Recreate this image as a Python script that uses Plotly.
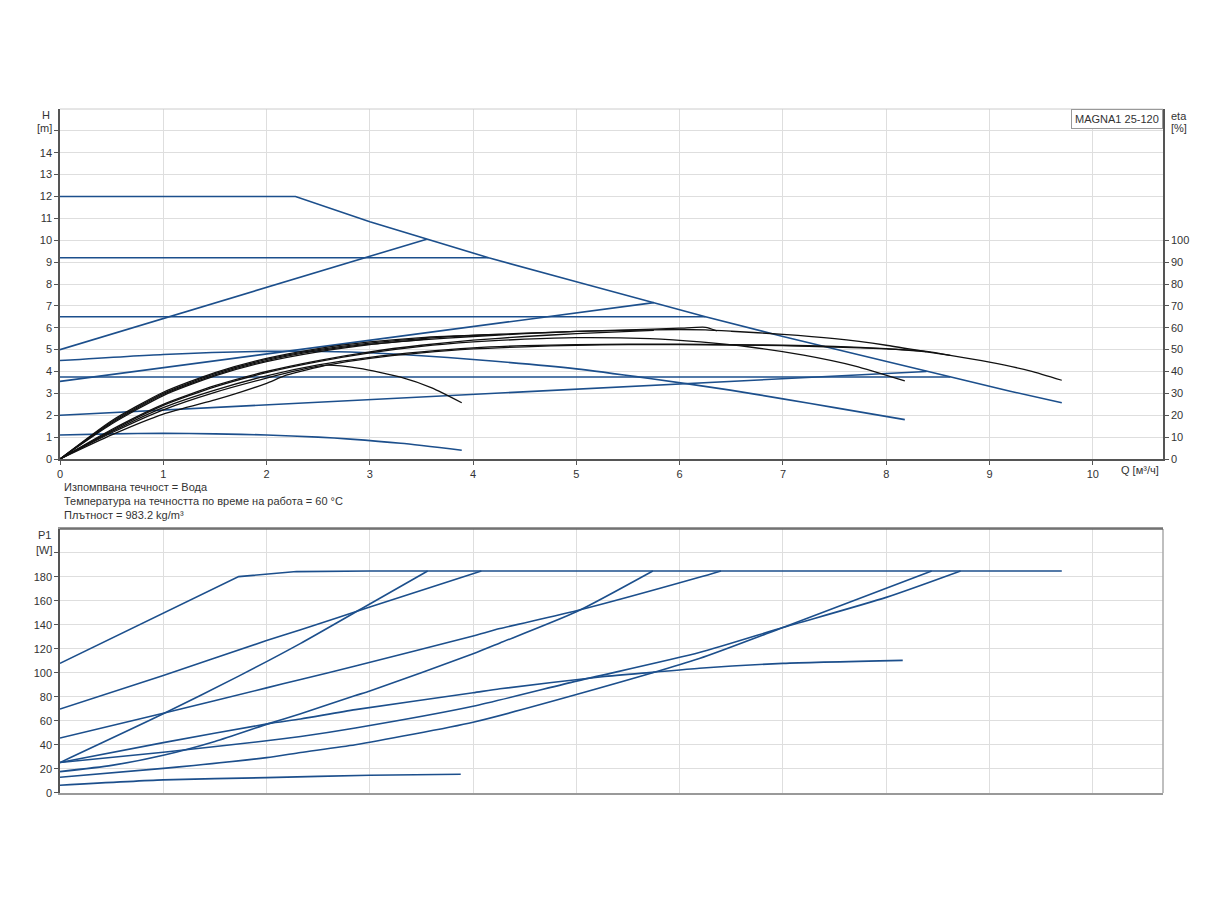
import plotly.graph_objects as go

# ---- Q-H curves (Q in m3/h, H in m) ----
q_max = [0, 2.28, 3.0, 3.55, 4.15, 5.0, 5.75, 6.25, 7.0, 8.0, 8.39, 8.62, 9.2, 9.7]
h_max = [12, 12, 10.85, 10.05, 9.2, 8.1, 7.15, 6.5, 5.6, 4.45, 4.0, 3.74, 3.1, 2.57]

q_cp3, h_cp3 = [0, 4.15], [9.2, 9.2]
q_cp2, h_cp2 = [0, 6.25], [6.5, 6.5]
q_cp1, h_cp1 = [0, 8.62], [3.75, 3.75]
q_pp3, h_pp3 = [0, 3.55], [5.0, 10.05]
q_pp2, h_pp2 = [0, 5.75], [3.55, 7.15]
q_pp1, h_pp1 = [0, 8.39], [2.0, 4.0]

q_sp2 = [0, 1, 2, 2.81, 3.5, 4, 5, 5.71, 6.49, 7, 7.5, 8.18]
h_sp2 = [4.5, 4.78, 4.92, 4.89, 4.72, 4.55, 4.12, 3.68, 3.15, 2.75, 2.35, 1.8]
q_sp1 = [0, 0.5, 1, 1.5, 2, 2.5, 2.81, 3.3, 3.89]
h_sp1 = [1.1, 1.15, 1.17, 1.15, 1.1, 1.0, 0.91, 0.72, 0.4]

# ---- efficiency curves (eta in %) ----
q_eta_max = [0, 0.5, 1, 1.5, 2, 2.5, 3, 3.5, 4, 4.5, 5, 5.5, 6, 6.25, 6.5, 7, 7.5, 8, 8.39, 8.62, 9, 9.4, 9.7]
eta_max = [0, 17, 30, 39, 45.5, 50, 53, 55, 56.5, 57.5, 58.3, 58.8, 59.2, 59, 58.4, 57, 55, 52, 49, 47.4, 44.3, 40.2, 36]

q_eta_cp3 = [0, 0.5, 1, 1.5, 2, 2.5, 3, 3.5, 4.15]
eta_cp3 = [0, 17.5, 30.5, 39.5, 46, 50.5, 53.5, 55.5, 56.8]
q_eta_cp2 = [0, 0.5, 1, 1.5, 2, 2.5, 3, 3.5, 4, 4.5, 5, 5.5, 6, 6.25, 6.36]
eta_cp2 = [0, 16.5, 29.5, 38.5, 45, 49.5, 52.5, 54.5, 56, 57.3, 58.3, 59, 59.8, 60.2, 58.6]
q_eta_pp3 = [0, 0.5, 1, 1.5, 2, 2.5, 3, 3.55]
eta_pp3 = [0, 16, 29, 38, 44.5, 49, 52.3, 54.8]
q_eta_pp2 = [0, 0.5, 1, 1.5, 2, 2.5, 3, 3.5, 4, 4.5, 5, 5.75]
eta_pp2 = [0, 13.5, 25, 33.5, 40, 45, 49, 52, 54.3, 56, 57.3, 58.8]
q_eta_sp2 = [0, 0.5, 1, 1.5, 2, 2.5, 3, 3.5, 4, 4.5, 5, 5.71, 6.2, 6.68, 7.2, 7.7, 8.18]
eta_sp2 = [0, 13, 24.5, 33, 39.5, 44.5, 48.5, 51.5, 53.5, 54.8, 55.5, 55, 53.5, 51.2, 47.5, 42.5, 35.7]
q_eta_cp1 = [0, 0.5, 1, 1.5, 2, 2.5, 3, 3.5, 4, 4.5, 5, 5.5, 6, 6.5, 7, 7.5, 8, 8.39, 8.62]
eta_cp1 = [0, 12.5, 23.5, 31.5, 38, 43, 46.5, 49, 50.8, 51.8, 52.3, 52.5, 52.5, 52.3, 52, 51.5, 50.5, 49.2, 47.4]
q_eta_pp1 = [0, 0.5, 1, 1.5, 1.71, 2, 2.19, 2.6, 3, 3.5, 4, 4.5, 5, 5.5, 6, 6.5, 7, 7.5, 8, 8.39]
eta_pp1 = [0, 11, 20.5, 27, 30, 34.6, 38.3, 43, 46, 48.5, 50.3, 51.3, 52, 52.3, 52.3, 52.1, 51.8, 51.2, 50.3, 49]
q_eta_sp1 = [0, 0.5, 1, 1.5, 2, 2.3, 2.58, 2.9, 3.29, 3.6, 3.89]
eta_sp1 = [0, 12, 22.5, 30.5, 37, 40.5, 42.9, 41.4, 37.5, 32.5, 25.7]

# ---- power curves (P1 in W) ----
q_p_max, p_max = [0, 1.73, 2.29, 3.0, 9.7], [108, 180.3, 184.5, 185, 185]
q_p_cp3, p_cp3 = [0, 1, 2, 2.33, 3, 4.08], [70, 98, 127, 136, 155, 185]
q_p_pp3, p_pp3 = [0, 1, 1.73, 2.33, 2.94, 3.56], [25.4, 66, 97.4, 124.7, 154.6, 185]
q_p_cp2 = [0, 1, 2, 2.33, 2.86, 4, 4.26, 5, 6.19, 6.4]
p_cp2 = [45.8, 66.5, 87.6, 94.6, 105.8, 130.9, 137, 151.8, 179.7, 185]
q_p_pp2 = [0, 0.5, 1, 1.5, 2.02, 2.33, 2.86, 3, 4, 4.26, 5, 5.74]
p_pp2 = [17.8, 23, 31.5, 43, 57.8, 66.1, 81.2, 85, 116, 125, 151, 185]
q_p_sp2 = [0, 1, 2.02, 2.33, 2.86, 4, 4.26, 5.25, 5.75, 6.19, 7, 8.16]
p_sp2 = [25.4, 42, 57.8, 61.7, 69.5, 83.5, 86.8, 96.9, 100.7, 104, 108, 110.5]
q_p_cp1 = [0, 1, 2, 2.33, 2.86, 4, 5, 6.19, 7, 8, 8.72]
p_cp1 = [25.4, 34, 43.5, 47.1, 54.2, 72.3, 93.2, 117, 137.9, 163, 185]
q_p_pp1 = [0, 1, 2, 2.33, 2.86, 4, 5, 6.19, 7, 8.44]
p_pp1 = [13.1, 20.5, 29.5, 33.8, 40.2, 59, 82, 112, 137.9, 185]
q_p_sp1, p_sp1 = [0, 1, 2, 3, 3.88], [6.5, 10.9, 12.8, 14.8, 15.6]

q_ticks = list(range(0, 11))
h_ticks = list(range(0, 16))
eta_ticks = list(range(0, 101, 10))
p_ticks = list(range(0, 201, 20))

BLUE = "#1c4f8c"
BLACK = "#111111"
GRID = "#dedede"
AXIS = "#555555"
FONT = "Liberation Sans, Arial, sans-serif"

fig = go.Figure()

def curve(q, v, color, width, xa, ya, smooth=True):
    shape = dict(shape="spline", smoothing=0.6) if smooth else dict(shape="linear")
    fig.add_scatter(x=q, y=v, mode="lines", line=dict(color=color, width=width, **shape),
                    xaxis=xa, yaxis=ya, hoverinfo="skip")

h_curves = [(q_max, h_max), (q_cp3, h_cp3), (q_cp2, h_cp2), (q_cp1, h_cp1),
            (q_pp3, h_pp3), (q_pp2, h_pp2), (q_pp1, h_pp1), (q_sp2, h_sp2), (q_sp1, h_sp1)]
for i, (q, h) in enumerate(h_curves):
    curve(q, h, BLUE, 1.6, "x", "y", smooth=(i >= 7))

eta_curves = [(q_eta_max, eta_max), (q_eta_cp3, eta_cp3), (q_eta_cp2, eta_cp2),
              (q_eta_pp3, eta_pp3), (q_eta_pp2, eta_pp2), (q_eta_sp2, eta_sp2),
              (q_eta_cp1, eta_cp1), (q_eta_pp1, eta_pp1), (q_eta_sp1, eta_sp1)]
for q, e in eta_curves:
    curve(q, e, BLACK, 1.3, "x", "y3")

p_curves = [(q_p_max, p_max), (q_p_cp3, p_cp3), (q_p_pp3, p_pp3), (q_p_cp2, p_cp2),
            (q_p_pp2, p_pp2), (q_p_sp2, p_sp2), (q_p_cp1, p_cp1), (q_p_pp1, p_pp1),
            (q_p_sp1, p_sp1)]
for i, (q, p) in enumerate(p_curves):
    curve(q, p, BLUE, 1.6, "x2", "y2", smooth=(i > 0))

tickfont = dict(family=FONT, size=11, color="#333")
xr = [0, 10.68]

# the page body adds 8px around the figure, so margins are shifted by that
fig.update_layout(
    width=1224, height=900,
    margin=dict(l=52, r=69, t=101, b=115),
    paper_bgcolor="white", plot_bgcolor="white",
    showlegend=False,
    font=dict(family=FONT, size=11, color="#333"),
    xaxis=dict(domain=[0, 1], anchor="y", range=xr, tickvals=q_ticks, automargin=False,
               showgrid=True, gridcolor=GRID, zeroline=False,
               showline=True, linecolor=AXIS, linewidth=1.5,
               ticks="outside", ticklen=4, tickcolor=AXIS, tickfont=tickfont),
    yaxis=dict(domain=[0.4883, 1], anchor="x", range=[0, 16], tickvals=h_ticks, automargin=False,
               ticktext=[str(v) if v <= 14 else "" for v in h_ticks],
               showgrid=True, gridcolor=GRID, zeroline=False,
               showline=True, linecolor=AXIS, linewidth=1.5,
               ticks="outside", ticklen=4, tickcolor=AXIS, tickfont=tickfont),
    yaxis3=dict(overlaying="y", side="right", anchor="x", range=[0, 160], automargin=False,
                tickvals=eta_ticks, showgrid=False, zeroline=False,
                showline=True, linecolor=AXIS, linewidth=1.5,
                ticks="outside", ticklen=4, tickcolor=AXIS, tickfont=tickfont),
    xaxis2=dict(domain=[0, 1], anchor="y2", range=xr, tickvals=q_ticks, automargin=False,
                showticklabels=False, showgrid=True, gridcolor=GRID, zeroline=False,
                showline=True, linecolor="#999", linewidth=1.5, mirror=True,
                ticks=""),
    yaxis2=dict(domain=[0, 0.386], anchor="x2", range=[0, 220], tickvals=p_ticks, automargin=False,
                ticktext=[str(v) if v <= 180 else "" for v in p_ticks],
                showgrid=True, gridcolor=GRID, zeroline=False,
                showline=True, linecolor=AXIS, linewidth=1.5,
                ticks="outside", ticklen=4, tickcolor=AXIS, tickfont=tickfont),
    shapes=[
        dict(type="line", xref="paper", yref="paper", x0=0, x1=1, y0=1, y1=1,
             line=dict(color="#cccccc", width=1)),
        dict(type="line", xref="paper", yref="paper", x0=1, x1=1, y0=0, y1=0.386,
             line=dict(color="#aaaaaa", width=1.5)),
        dict(type="line", xref="paper", yref="paper", x0=0, x1=1, y0=0.386, y1=0.386,
             line=dict(color="#666666", width=1.5)),
    ],
)

def label(text, x, y, xanchor="center", **kw):
    fig.add_annotation(text=text, xref="paper", yref="paper", x=x, y=y,
                       xanchor=xanchor, yanchor="middle", showarrow=False,
                       font=dict(family=FONT, size=11, color="#333"), **kw)

label("H", -0.0127, 0.9912)
label("[m]", -0.0136, 0.9722)
label("eta", 1.0145, 0.9898)
label("[%]", 1.0145, 0.9722)
label("P1", -0.0136, 0.3772)
label("[W]", -0.0136, 0.3553)
label("Q [м³/ч]", 0.979, 0.4722)
label("Изпомпвана течност = Вода", 0.0018, 0.4474, xanchor="left")
label("Температура на течността по време на работа = 60 °C", 0.0018, 0.4269, xanchor="left")
label("Плътност = 983.2 kg/m³", 0.0018, 0.4064, xanchor="left")
fig.add_annotation(text="MAGNA1 25-120", xref="paper", yref="paper", x=1, y=1,
                   xanchor="right", yanchor="top", showarrow=False,
                   bordercolor="#999", borderwidth=1, borderpad=3, bgcolor="white",
                   font=dict(family=FONT, size=11, color="#333"))

fig.write_html("out.html")
